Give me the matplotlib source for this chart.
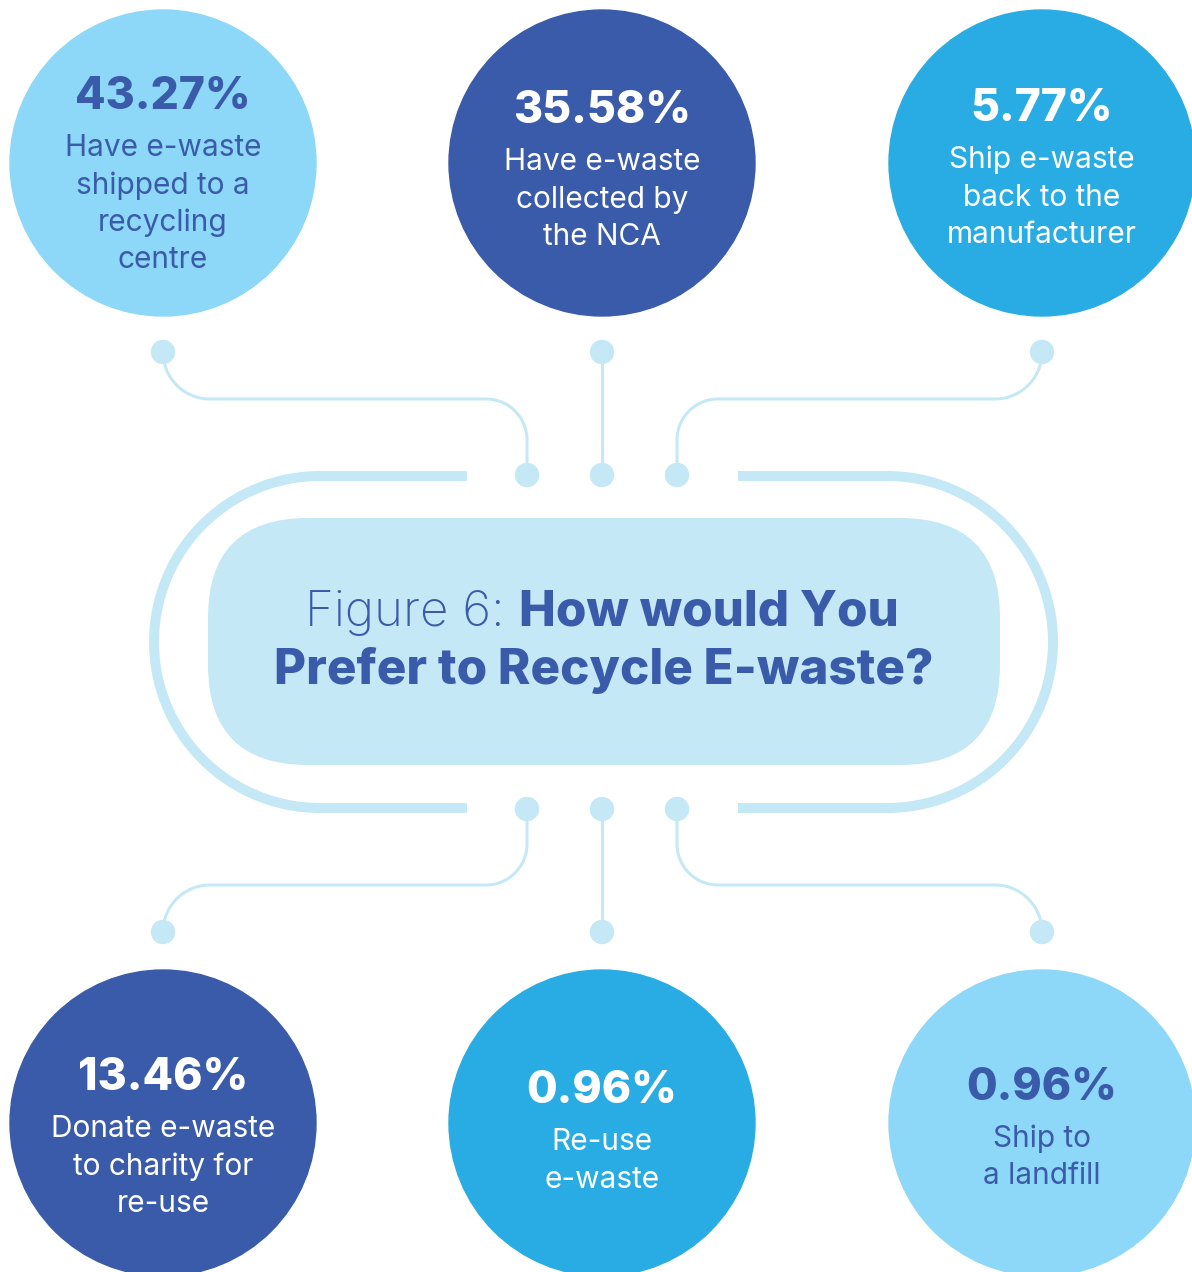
import numpy as np
import matplotlib
matplotlib.use("Agg")
import matplotlib.pyplot as plt
from matplotlib.patches import Circle, FancyBboxPatch

# data
percents = ["43.27%", "35.58%", "5.77%", "13.46%", "0.96%", "0.96%"]
labels = [
    "Have e-waste\nshipped to a\nrecycling\ncentre",
    "Have e-waste\ncollected by\nthe NCA",
    "Ship e-waste\nback to the\nmanufacturer",
    "Donate e-waste\nto charity for\nre-use",
    "Re-use\ne-waste",
    "Ship to\na landfill",
]
title_light = "Figure 6: "
title_bold_1 = "How would You"
title_bold_2 = "Prefer to Recycle E-waste?"

LIGHT = "#8dd8f8"
DARK = "#3a5ba9"
MID = "#29ace3"
PALE = "#c4e8f6"
WHITE = "#ffffff"
fills = [LIGHT, DARK, MID, DARK, MID, LIGHT]
inks = [DARK, WHITE, WHITE, WHITE, WHITE, DARK]

# layout (pixels)
W, H = 1192, 1272
col_x = [163, 602, 1042]
row_y = [163, 1123]
R = 153
MID_Y = 642

fig = plt.figure(figsize=(W / 100, H / 100), dpi=100)
ax = fig.add_axes([0, 0, 1, 1])
ax.set_xlim(0, W)
ax.set_ylim(H, 0)
ax.set_aspect("equal")
ax.axis("off")

px = 72 / 100  # points per pixel


def arc(cx, cy, r, a0, a1, n=40):
    t = np.radians(np.linspace(a0, a1, n))
    return cx + r * np.cos(t), cy + r * np.sin(t)


def connector(side, flip):
    # side: -1 left, 0 centre, 1 right ; flip: mirror to bottom
    xo = col_x[side + 1]
    xi = 602 + side * 75
    if side == 0:
        xs = np.array([602, 602])
        ys = np.array([352, 475])
    else:
        r1, r2 = 47, 41
        if side < 0:
            ax1, ay1 = arc(xo + r1, 352, r1, 180, 90)
            ax2, ay2 = arc(xi - r2, 440, r2, -90, 0)
        else:
            ax1, ay1 = arc(xo - r1, 352, r1, 0, 90)
            ax2, ay2 = arc(xi + r2, 440, r2, -90, -180)
        xs = np.concatenate([ax1, ax2, [xi]])
        ys = np.concatenate([ay1, ay2, [475]])
    if flip:
        ys = 2 * MID_Y - ys
    ax.plot(xs, ys, color=PALE, lw=3 * px, solid_capstyle="butt", zorder=1)
    ax.add_patch(Circle((xs[0], ys[0]), 11.5, color=PALE, zorder=2))
    ax.add_patch(Circle((xs[-1], ys[-1]), 11.5, color=PALE, zorder=2))


for flip in (False, True):
    for side in (-1, 0, 1):
        connector(side, flip)

# outer ring
ring_r = 166
lx, ly = arc(320, MID_Y, ring_r, 270, 90, 80)
ax.plot(np.concatenate([[467], lx, [467]]), np.concatenate([[476], ly, [808]]),
        color=PALE, lw=10 * px, solid_capstyle="butt", zorder=1)
rx, ry = arc(887, MID_Y, ring_r, -90, 90, 80)
ax.plot(np.concatenate([[738], rx, [738]]), np.concatenate([[476], ry, [808]]),
        color=PALE, lw=10 * px, solid_capstyle="butt", zorder=1)

# inner pill
ax.add_patch(FancyBboxPatch((208, 518), 792, 247,
                            boxstyle="round,pad=0,rounding_size=100",
                            fc=PALE, ec="none", zorder=2))

# title
fig.canvas.draw()
renderer = fig.canvas.get_renderer()
fs_title = 35.5
t1 = ax.text(0, 626, title_light, fontsize=fs_title, family="Inter", weight="light",
             color=DARK, ha="left", va="baseline", zorder=3)
t2 = ax.text(0, 626, title_bold_1, fontsize=fs_title, family="Inter", weight="heavy",
             color=DARK, ha="left", va="baseline", zorder=3)
w1 = t1.get_window_extent(renderer).width
w2 = t2.get_window_extent(renderer).width
x0 = 602 - (w1 + w2) / 2
t1.set_x(x0)
t2.set_x(x0 + w1)
ax.text(604, 684, title_bold_2, fontsize=fs_title, family="Inter", weight="heavy",
        color=DARK, ha="center", va="baseline", zorder=3)

# circles
pct_y = [97, 111, 109, 1078, 1091, 1088]
for i in range(6):
    cx = col_x[i % 3]
    cy = row_y[i // 3]
    ax.add_patch(Circle((cx, cy), R, color=fills[i], zorder=2))
    ax.text(cx, pct_y[i], percents[i], fontsize=32, family="Inter", weight="heavy",
            color=inks[i], ha="center", va="center", zorder=3)
    lines = labels[i].split("\n")
    for j, ln in enumerate(lines):
        ax.text(cx, pct_y[i] + 51 + 37.5 * j, ln, fontsize=21.5, family="Inter",
                weight="normal", color=inks[i], ha="center", va="center", zorder=3)

fig.savefig("out.png", dpi=100, facecolor="white")
